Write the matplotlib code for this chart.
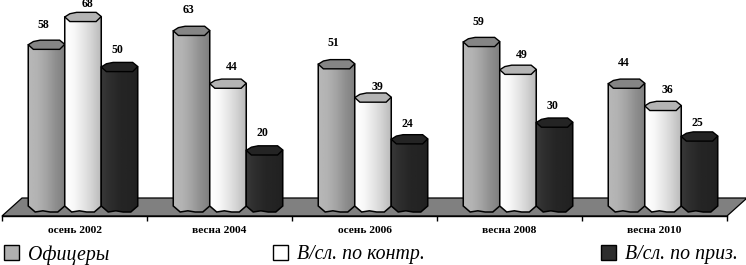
import numpy as np
import matplotlib
matplotlib.use("Agg")
import matplotlib.pyplot as plt
from matplotlib.patches import Polygon, Rectangle

categories = ["осень 2002", "весна 2004", "осень 2006", "весна 2008", "весна 2010"]
officers = [58, 63, 51, 59, 44]
contract = [68, 44, 39, 49, 36]
conscript = [50, 20, 24, 30, 25]
series_names = ["Офицеры", "В/сл. по контр.", "В/сл. по приз."]

W, H = 746, 265
PXY = 2.78            # pixels per value unit
PXX = 145.0           # pixels per category
plt.rcParams['font.family'] = ['Liberation Serif', 'DejaVu Serif']
fig = plt.figure(figsize=(W / 100, H / 100), dpi=100)
top_val = 206 / PXY
low_val = -10 / PXY
ax = fig.add_axes([2 / W, (H - 216) / H, 725 / W, 216 / H])
ax.set_xlim(-0.5, 4.5)
ax.set_ylim(low_val, top_val)
ax.patch.set_alpha(0)
for s in ["top", "left", "right"]:
    ax.spines[s].set_visible(False)
ax.spines["bottom"].set_linewidth(1.0)
ax.set_yticks([])
ax.set_xticks(np.arange(-0.5, 5, 1))
ax.set_xticklabels([])
ax.tick_params(axis="x", which="major", length=3.5, width=1.0, color="black")
ax.set_xticks(np.arange(5), minor=True)
ax.set_xticklabels(categories, minor=True, fontsize=8.2, fontweight="bold")
ax.tick_params(axis="x", which="minor", length=0, pad=7.5)

# floor
dx = 20 / PXX
dy = 18 / PXY
ax.add_patch(Polygon([(-0.5, low_val), (4.5, low_val), (4.5 + dx, low_val + dy), (-0.5 + dx, low_val + dy)],
                     closed=True, fc="#808080", ec="black", lw=0.9, clip_on=False, zorder=1))

bw = 36.5 / PXX
hh = 4.6 / PXY
styles = [
    dict(stops=[0.72, 0.70, 0.64, 0.56, 0.50], cap="#858585"),
    dict(stops=[1.00, 0.97, 0.90, 0.82, 0.72], cap="#b4b4b4"),
    dict(stops=[0.22, 0.18, 0.15, 0.14, 0.13], cap="#242424"),
]
label_dx = [-3, 4, -2]
label_dy = [[20, 21, 21, 20, 21], [13, 17, 11, 15, 16], [17, 17, 15, 17, 14]]
oct_x = np.array([-1, -0.72, -0.35, 0.72, 1, 0.72, -0.72])
oct_y = np.array([0, 0.7, 1, 1, 0.1, -1, -1])
z = 3
for k, vals in enumerate([officers, contract, conscript]):
    st = styles[k]
    grad = np.interp(np.linspace(0, 1, 64), np.linspace(0, 1, 5), st["stops"])[None, :]
    for i, v in enumerate(vals):
        xc = i + 8.5 / PXX + (k - 1) * bw
        hw = bw / 2
        low = -6 / PXY
        body = Polygon([(xc - hw, v), (xc + hw, v), (xc + hw, 0), (xc + 0.62 * hw, low), (xc + 0.2 * hw, low),
                        (xc - 0.2 * hw, low * 0.8), (xc - 0.62 * hw, low), (xc - hw, 0)],
                       closed=True, fc="none", ec="black", lw=1.1, zorder=z + 1)
        ax.add_patch(body)
        im = ax.imshow(grad, extent=(xc - hw, xc + hw, low, v), cmap="gray", vmin=0, vmax=1,
                       aspect="auto", zorder=z, interpolation="bilinear")
        im.set_clip_path(body)
        cap = Polygon(np.c_[xc + hw * oct_x, v + hh * oct_y], closed=True, fc=st["cap"], ec="black",
                      lw=1.0, zorder=z + 2)
        ax.add_patch(cap)
        ax.annotate(str(v), (xc, v), xytext=(label_dx[k] * 0.72, label_dy[k][i] * 0.72),
                    textcoords="offset points", ha="center", va="center", fontsize=8.5,
                    fontweight="bold", zorder=20, annotation_clip=False)
        z += 3
ax.set_xlim(-0.5, 4.5)
ax.set_ylim(low_val, top_val)

# legend
leg_fc = ["#b0b0b0", "#ffffff", "#2e2e2e"]
leg_x = [4, 273, 601]
for x, fc, name in zip(leg_x, leg_fc, series_names):
    fig.add_artist(Rectangle((x / W, (H - 260) / H), 15 / W, 15 / H, transform=fig.transFigure,
                             fc=fc, ec="black", lw=1.0))
    fig.text((x + 24) / W, (H - 255) / H, name, fontsize=14.3, style="italic", va="center", ha="left")

fig.savefig("out.png", dpi=100, facecolor="white")
